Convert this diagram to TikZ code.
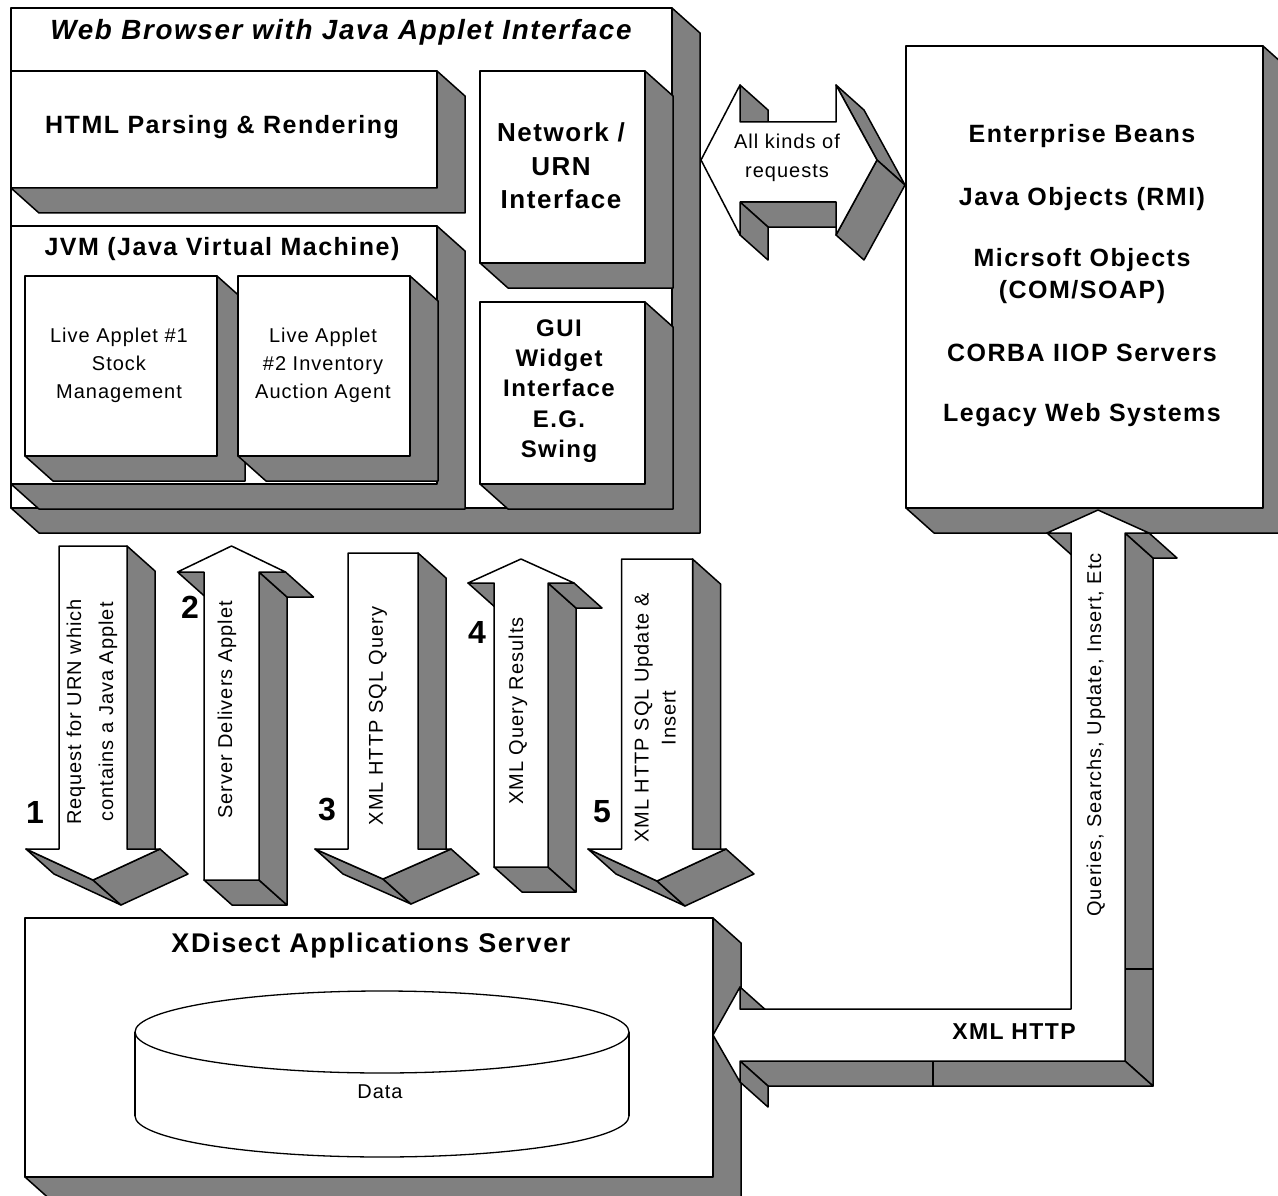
\documentclass[tikz,border=0pt]{standalone}
\usepackage{fontspec}
\setmainfont{Liberation Sans}
\newfontfamily\regf{Liberation Sans}[LetterSpace=5]
\newfontfamily\boldf{Liberation Sans}[LetterSpace=6]
\definecolor{shadegray}{RGB}{128,128,128}
\def\shx{28}
\def\shy{25}
\tikzset{
  face/.style={draw=black, fill=white, line width=1.5pt, line join=round},
  shd/.style={draw=black, fill=shadegray, line width=1.5pt, line join=round},
  boxf/.style={face, inner sep=0pt, outer sep=0pt, anchor=center},
  btxt/.style={font=\boldf\bfseries\fontsize{25}{30}\selectfont, align=center, inner sep=0pt},
  rtxt/.style={font=\regf\fontsize{20}{28}\selectfont, align=center, inner sep=0pt},
  digit/.style={font=\bfseries\fontsize{32}{32}\selectfont, inner sep=0pt},
  seam/.style={draw=black, line width=1.2pt}
}
% 3D box: name, x1, y1, x2, y2 (image coordinates)
\newcommand\bx[5]{%
  \node[boxf, minimum width={(#4-#2)*1pt}, minimum height={(#5-#3)*1pt}] (#1) at ({(#2+#4)/2},{(#3+#5)/2}) {};
  \filldraw[shd] (#1.south west) -- (#1.south east) -- (#1.north east) -- ++(\shx,\shy)
    -- ([shift={(\shx,\shy)}]#1.south east) -- ([shift={(\shx,\shy)}]#1.south west) -- cycle;
}
% extruded side of an edge between two named coordinates
\newcommand\side[2]{%
  \filldraw[shd] (#1) -- (#2) -- ([shift={(\shx,\shy)}]#2) -- ([shift={(\shx,\shy)}]#1) -- cycle;
}
% down arrow: name, cx, top, half shaft, head y, half head, tip y
\newcommand\darr[7]{%
  \coordinate (#1a) at ({#2-#4},#3);
  \coordinate (#1b) at ({#2+#4},#3);
  \coordinate (#1c) at ({#2+#4},#5);
  \coordinate (#1d) at ({#2+#6},#5);
  \coordinate (#1e) at (#2,#7);
  \coordinate (#1f) at ({#2-#6},#5);
  \coordinate (#1g) at ({#2-#4},#5);
  \side{#1b}{#1c}\side{#1e}{#1f}\side{#1d}{#1e}
  \filldraw[face] (#1a) -- (#1b) -- (#1c) -- (#1d) -- (#1e) -- (#1f) -- (#1g) -- cycle;
}
% up arrow: name, cx, tip y, half head, head y, half shaft, bottom
\newcommand\uarr[7]{%
  \coordinate (#1t) at (#2,#3);
  \coordinate (#1hr) at ({#2+#4},#5);
  \coordinate (#1sr) at ({#2+#6},#5);
  \coordinate (#1br) at ({#2+#6},#7);
  \coordinate (#1bl) at ({#2-#6},#7);
  \coordinate (#1sl) at ({#2-#6},#5);
  \coordinate (#1hl) at ({#2-#4},#5);
  \side{#1sl}{#1hl}\side{#1br}{#1bl}\side{#1sr}{#1br}\side{#1hr}{#1sr}
  \filldraw[face] (#1t) -- (#1hr) -- (#1sr) -- (#1br) -- (#1bl) -- (#1sl) -- (#1hl) -- cycle;
}
\begin{document}
\begin{tikzpicture}[x=1pt, y=-1pt]
\useasboundingbox (0,0) rectangle (1278,1196);
\fill[white] (0,0) rectangle (1278,1196);
\clip (0,0) rectangle (1278,1196);

% ---------- browser ----------
\bx{browser}{11}{8}{672}{508}
\bx{html}{11}{71}{437}{188}
\bx{jvm}{11}{226}{437}{484}
\bx{app1}{25}{276}{217}{456}
\bx{app2}{238}{276}{410}{456}
\bx{net}{480}{71}{645}{263}
\bx{gui}{480}{302}{645}{484}

% ---------- enterprise box ----------
\bx{ent}{906}{46}{1263}{508}

% ---------- double arrow ----------
\coordinate (qLT) at (701,160);
\coordinate (qLHT) at (740,85);
\coordinate (qLST) at (740,122);
\coordinate (qRST) at (836,122);
\coordinate (qRHT) at (836,85);
\coordinate (qRT) at (877,160);
\coordinate (qRHB) at (836,235);
\coordinate (qRSB) at (836,202);
\coordinate (qLSB) at (740,202);
\coordinate (qLHB) at (740,235);
\side{qLHT}{qLST}\side{qRSB}{qLSB}\side{qLSB}{qLHB}\side{qRHT}{qRT}\side{qRT}{qRHB}
\filldraw[face] (qLT) -- (qLHT) -- (qLST) -- (qRST) -- (qRHT) -- (qRT) -- (qRHB) -- (qRSB) -- (qLSB) -- (qLHB) -- cycle;

% ---------- five vertical arrows ----------
\darr{aa}{93}{546}{34}{849}{67}{880}
\uarr{ab}{231.5}{546}{54}{572}{27.5}{880}
\darr{ac}{383}{553}{35}{849}{68}{879}
\uarr{ad}{521}{559}{53}{583}{27}{867}
\darr{ae}{657}{559}{35.5}{849}{69}{881}

% ---------- server ----------
\bx{server}{25}{918}{713}{1177}
\draw[line width=1.3pt, fill=white] (382,1116) ellipse (247 and 41);
\fill[white] (135,1032) rectangle (629,1116);
\draw[line width=1.3pt] (135,1032) -- (135,1116) (629,1032) -- (629,1116);
\draw[line width=1.3pt, fill=white] (382,1032) ellipse (247 and 41);

% ---------- elbow arrow ----------
\coordinate (eL) at (713,1035);
\coordinate (eUH) at (740,987);
\coordinate (eUS) at (740,1009);
\coordinate (eIC) at (1071,1009);
\coordinate (eIT) at (1071,533);
\coordinate (eHL) at (1047,533);
\coordinate (eT) at (1098,510);
\coordinate (eHR) at (1149,533);
\coordinate (eOT) at (1125,533);
\coordinate (eOC) at (1125,1061);
\coordinate (eLS) at (740,1061);
\coordinate (eLH) at (740,1082);
\side{eOT}{eOC}\side{eOC}{eLS}\side{eLS}{eLH}\side{eUH}{eUS}\side{eIT}{eHL}\side{eHR}{eOT}
\draw[seam] (933,1061) -- (933,1086);
\draw[seam] (1125,969) -- (1153,969);
\filldraw[face] (eL) -- (eUH) -- (eUS) -- (eIC) -- (eIT) -- (eHL) -- (eT) -- (eHR) -- (eOT) -- (eOC) -- (eLS) -- (eLH) -- cycle;

% ---------- texts ----------
\node[btxt, font=\boldf\bfseries\itshape\fontsize{27.8}{30}\selectfont] (title) at (341,32) {Web Browser with Java Applet Interface};
\node[btxt] (htmlt) at (222,127) {HTML Parsing \& Rendering};
\node[btxt] (jvmt) at (222,249) {JVM (Java Virtual Machine)};
\node[rtxt] (app1t) at (119,365) {Live Applet \#1\\Stock\\Management};
\node[rtxt] (app2t) at (323,365) {Live Applet\\\#2 Inventory\\Auction Agent};
\node[btxt, font=\boldf\bfseries\fontsize{26}{33.5}\selectfont] (nett) at (561,166) {Network /\\URN\\Interface};
\node[btxt, font=\boldf\bfseries\fontsize{24}{30.3}\selectfont] (guit) at (559,391) {GUI\\Widget\\Interface\\E.G.\\Swing};
\node[rtxt, font=\regf\fontsize{20}{29}\selectfont] (reqt) at (787,158) {All kinds of\\requests};

\node[btxt] (e1) at (1082,136) {Enterprise Beans};
\node[btxt] (e2) at (1082,199) {Java Objects (RMI)};
\node[btxt, font=\boldf\bfseries\fontsize{25}{32}\selectfont] (e3) at (1082,276) {Micrsoft Objects\\(COM/SOAP)};
\node[btxt] (e4) at (1082,353) {CORBA IIOP Servers};
\node[btxt] (e5) at (1082,415) {Legacy Web Systems};

\node[rtxt, rotate=90, font=\regf\fontsize{20}{32}\selectfont] (t1) at (92,712) {Request for URN which\\contains a Java Applet};
\node[rtxt, rotate=90] (t2) at (227,710) {Server Delivers Applet};
\node[rtxt, rotate=90] (t3) at (378,716) {XML HTTP SQL Query};
\node[rtxt, rotate=90] (t4) at (518,711) {XML Query Results};
\node[rtxt, rotate=90, font=\regf\fontsize{20}{27}\selectfont] (t5) at (655,718) {XML HTTP SQL Update \&\\Insert};
\node[rtxt, rotate=90] (tq) at (1096,735) {Queries, Searchs, Update, Insert, Etc};

\node[digit] (n1) at (35,812) {1};
\node[digit] (n2) at (190,607) {2};
\node[digit] (n3) at (327,810) {3};
\node[digit] (n4) at (477,632) {4};
\node[digit] (n5) at (602,812) {5};

\node[btxt, font=\boldf\bfseries\fontsize{23}{28}\selectfont] (xh) at (1014,1032) {XML HTTP};
\node[btxt, font=\boldf\bfseries\fontsize{27}{30}\selectfont] (xd) at (371,946) {XDisect Applications Server};
\node[rtxt] (data) at (380,1092) {Data};
\end{tikzpicture}
\end{document}
